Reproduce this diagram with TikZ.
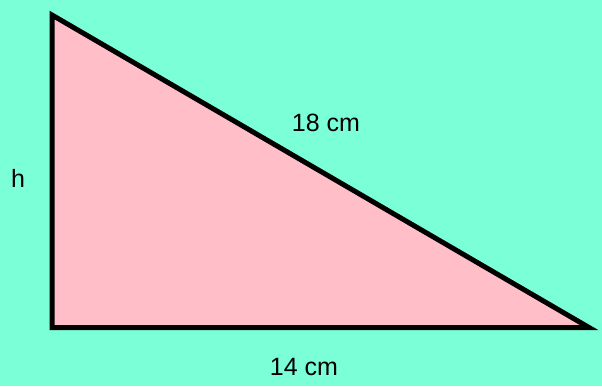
\documentclass[tikz,border=0pt]{standalone}
\usepackage{fontspec}
\setmainfont{Liberation Sans}
\definecolor{bg}{RGB}{122,255,214}
\definecolor{tri}{RGB}{255,190,200}
\begin{document}
\begin{tikzpicture}[x=1pt,y=-1pt,
  lbl/.style={font=\fontsize{25}{29}\selectfont, text=black, inner sep=0pt}]
\fill[bg] (0,0) rectangle (602,386);
\useasboundingbox (0,0) rectangle (602,386);
\coordinate (A) at (52,15);
\coordinate (B) at (52,327.5);
\coordinate (C) at (589,327.5);
\filldraw[fill=tri, draw=black, line width=5pt, line join=miter] (A) -- (B) -- (C) -- cycle;
\node[lbl] (h) at (18,178) {h};
\node[lbl] (hyp) at (326,123) {18 cm};
\node[lbl] (base) at (304,367) {14 cm};
\end{tikzpicture}
\end{document}
